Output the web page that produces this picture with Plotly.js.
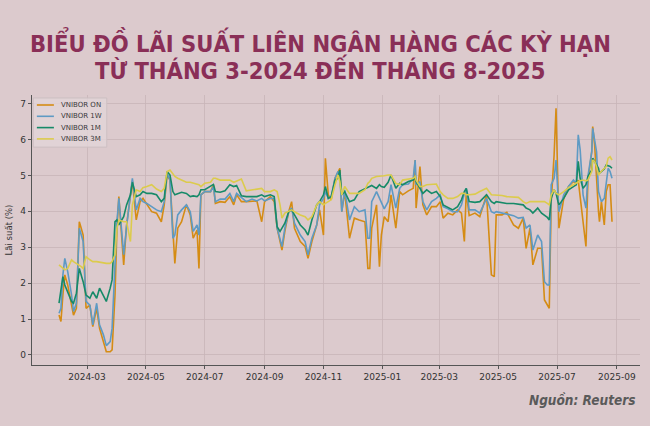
<!DOCTYPE html>
<html>
<head>
<meta charset="utf-8">
<script src="https://cdn.plot.ly/plotly-3.0.1.min.js"></script>
<style>
  html, body { margin: 0; padding: 0; background: #dccacd; }
  #chart { width: 650px; height: 426px; }
</style>
</head>
<body>
<div id="chart"></div>
<script>
// Lãi suất liên ngân hàng VNIBOR (%)
var dates = [
  '2024-02-01','2024-02-03','2024-02-05','2024-02-07','2024-02-10','2024-02-14','2024-02-16','2024-02-19','2024-02-22','2024-02-24',
  '2024-02-26','2024-02-29','2024-03-04','2024-03-07','2024-03-11','2024-03-14','2024-03-18','2024-03-21','2024-03-25','2024-03-27',
  '2024-03-30','2024-04-01','2024-04-03','2024-04-08','2024-04-11','2024-04-15','2024-04-17','2024-04-21','2024-04-25','2024-04-28',
  '2024-05-02','2024-05-07','2024-05-12','2024-05-17','2024-05-20','2024-05-23','2024-05-26','2024-05-29','2024-05-31','2024-06-03',
  '2024-06-07','2024-06-12',
  '2024-06-16','2024-06-19','2024-06-23','2024-06-25','2024-06-27','2024-07-01','2024-07-07','2024-07-10','2024-07-12','2024-07-17',
  '2024-07-22','2024-07-27','2024-07-31','2024-08-03','2024-08-08','2024-08-13','2024-08-19','2024-08-24','2024-08-29','2024-09-01',
  '2024-09-07','2024-09-11','2024-09-14','2024-09-17','2024-09-19','2024-09-22','2024-09-26','2024-09-29','2024-10-02','2024-10-08',
  '2024-10-13','2024-10-16','2024-10-20','2024-10-25','2024-10-28','2024-11-01','2024-11-03','2024-11-06',
  '2024-11-09','2024-11-13','2024-11-16','2024-11-18','2024-11-20','2024-11-23','2024-11-28','2024-12-03','2024-12-08','2024-12-14',
  '2024-12-17','2024-12-19','2024-12-21','2024-12-26','2024-12-29','2024-12-31','2025-01-03','2025-01-07','2025-01-10','2025-01-15',
  '2025-01-19','2025-01-22','2025-01-28','2025-02-02','2025-02-04','2025-02-05','2025-02-09','2025-02-12','2025-02-16','2025-02-21',
  '2025-02-26','2025-03-02','2025-03-05','2025-03-10','2025-03-15','2025-03-20','2025-03-24','2025-03-27','2025-03-29',
  '2025-04-01','2025-04-07','2025-04-12','2025-04-19','2025-04-24','2025-04-27','2025-04-29','2025-05-05','2025-05-10','2025-05-17',
  '2025-05-22','2025-05-27','2025-05-30','2025-06-03','2025-06-06','2025-06-11','2025-06-15','2025-06-18','2025-06-21','2025-06-23',
  '2025-06-25','2025-06-28','2025-06-30','2025-07-02','2025-07-03','2025-07-08','2025-07-13','2025-07-18','2025-07-21','2025-07-23',
  '2025-07-25','2025-07-28','2025-07-31','2025-08-02','2025-08-06','2025-08-07','2025-08-09','2025-08-11','2025-08-13','2025-08-14',
  '2025-08-16','2025-08-19','2025-08-21','2025-08-23','2025-08-25','2025-08-27'
];

var vniborON = [
  1.11,0.93,1.67,2.23,1.95,1.39,1.11,1.30,3.71,3.53,3.34,1.30,1.39,0.79,1.30,0.74,0.37,0.09,0.09,0.14,
  1.67,3.53,4.41,2.51,3.62,4.55,4.85,3.76,4.27,4.36,4.18,3.99,3.95,3.71,4.18,5.01,4.87,3.53,2.55,3.53,
  3.71,4.18,
  3.90,3.25,3.48,2.41,4.46,4.55,4.55,4.74,4.22,4.27,4.25,4.41,4.18,4.46,4.27,4.27,4.29,4.29,3.71,4.27,
  4.41,4.27,3.53,3.16,2.92,3.44,3.99,4.27,3.53,3.16,3.02,2.69,3.16,3.62,4.04,3.34,5.48,4.46,
  4.32,4.92,5.11,5.20,3.99,4.55,3.25,3.81,3.76,3.71,2.41,2.41,3.53,4.18,2.46,3.34,3.85,3.71,4.46,3.53,
  4.55,4.46,4.57,4.64,5.43,4.09,5.25,4.18,3.90,4.13,4.13,4.27,3.81,3.95,3.90,4.04,3.95,3.16,4.55,
  3.88,3.95,3.85,4.46,2.23,2.18,3.90,3.90,3.97,3.62,3.53,3.81,2.97,3.53,2.51,2.97,2.97,1.53,1.39,1.30,
  4.27,5.57,6.87,4.46,3.53,4.36,4.69,4.83,4.78,4.87,4.46,3.71,3.02,4.83,5.66,6.36,5.85,4.83,3.99,3.71,
  4.27,3.62,4.55,4.74,4.74,3.71
];

var vnibor1W = [
  1.16,1.30,2.23,2.69,2.32,1.67,1.21,1.44,3.53,3.34,3.16,1.49,1.39,0.84,1.44,0.84,0.56,0.26,0.37,0.74,
  2.60,3.71,4.36,2.79,3.57,4.46,4.92,4.04,4.36,4.27,4.22,4.13,4.04,3.99,4.27,5.06,4.87,3.25,3.34,3.90,
  4.04,4.18,
  3.99,3.44,3.62,3.34,4.46,4.55,4.55,4.69,4.27,4.34,4.34,4.50,4.27,4.50,4.38,4.27,4.34,4.29,4.36,4.29,
  4.36,4.36,3.53,3.25,3.02,3.53,3.99,4.09,3.67,3.34,3.16,2.79,3.25,3.62,4.18,4.36,4.55,4.36,
  4.41,4.92,5.11,5.01,3.99,4.60,3.76,4.13,3.99,4.04,3.25,3.25,4.27,4.55,4.36,4.22,4.07,4.27,4.74,4.09,
  4.64,4.74,4.76,4.92,5.43,4.74,4.83,4.27,4.04,4.27,4.36,4.46,4.13,4.07,3.99,3.99,4.18,4.50,4.64,
  4.04,4.04,3.95,4.36,3.99,3.95,3.99,3.95,3.92,3.88,3.81,3.83,3.53,3.62,2.92,3.34,3.16,2.04,1.95,1.95,
  4.74,4.92,5.43,4.55,3.99,4.46,4.69,4.87,4.78,6.13,5.71,4.46,4.09,4.97,5.66,6.31,5.94,5.66,4.55,4.46,
  4.27,4.36,4.74,5.20,5.11,4.92
];

var vnibor1M = [
  1.44,1.76,2.18,1.95,1.76,1.49,1.44,1.72,2.41,2.23,2.04,1.67,1.58,1.76,1.58,1.86,1.62,1.49,1.86,2.09,
  3.71,3.76,3.62,3.85,4.18,4.46,4.81,4.41,4.46,4.55,4.50,4.50,4.46,4.27,4.36,5.11,5.01,4.55,4.46,4.50,
  4.53,4.50,
  4.41,4.43,4.41,4.46,4.60,4.60,4.69,4.75,4.55,4.53,4.57,4.74,4.69,4.72,4.43,4.41,4.41,4.41,4.46,4.41,
  4.46,4.41,3.57,3.44,3.53,3.67,3.99,4.04,3.90,3.62,3.48,3.34,3.76,4.18,4.27,4.46,4.69,4.36,
  4.41,4.87,4.92,5.15,4.46,4.55,4.27,4.32,4.55,4.62,4.67,4.69,4.72,4.64,4.74,4.69,4.67,4.81,5.01,4.64,
  4.78,4.74,4.83,4.87,4.97,4.83,4.64,4.50,4.60,4.50,4.55,4.41,4.18,4.11,4.04,4.13,4.32,4.55,4.64,
  4.27,4.25,4.27,4.46,4.27,4.22,4.27,4.25,4.22,4.22,4.20,4.18,4.09,4.04,3.95,4.09,3.95,3.90,3.83,3.76,
  4.36,4.60,4.50,4.27,4.18,4.36,4.60,4.69,4.74,5.39,4.92,4.64,4.74,4.97,5.15,5.48,5.39,5.29,5.20,5.06,
  5.11,5.18,5.29,5.27,5.25,5.20
];

var vnibor3M = [
  2.51,2.46,2.41,2.37,2.41,2.65,2.60,2.55,2.51,2.46,2.41,2.74,2.65,2.60,2.60,2.58,2.55,2.55,2.55,2.60,
  2.79,3.53,3.76,3.71,3.71,3.16,4.18,4.60,4.55,4.66,4.69,4.74,4.62,4.55,4.64,5.11,5.15,5.06,4.97,4.92,
  4.87,4.81,
  4.81,4.78,4.75,4.74,4.69,4.78,4.81,4.92,4.92,4.87,4.87,4.87,4.81,4.85,4.90,4.57,4.60,4.62,4.64,4.55,
  4.55,4.60,4.55,4.18,3.81,3.95,4.01,4.04,3.99,3.90,3.85,3.76,3.85,4.18,4.27,4.18,4.22,4.27,
  4.32,4.74,5.01,4.83,4.46,4.69,4.50,4.50,4.50,4.60,4.78,4.83,4.92,4.97,4.97,4.97,4.99,5.01,5.01,4.78,
  4.74,4.87,4.90,4.92,4.97,4.87,4.69,4.69,4.74,4.74,4.76,4.55,4.46,4.36,4.36,4.41,4.50,4.50,4.46,
  4.46,4.48,4.55,4.64,4.46,4.46,4.46,4.44,4.41,4.41,4.39,4.27,4.22,4.27,4.27,4.29,4.29,4.27,4.22,4.18,
  4.46,4.60,4.50,4.46,4.46,4.55,4.66,4.74,4.78,4.83,4.85,4.87,4.85,4.87,5.11,5.43,5.39,5.25,5.01,5.06,
  5.11,5.18,5.25,5.48,5.52,5.43
];

var seriesNames = ['VNIBOR ON', 'VNIBOR 1W', 'VNIBOR 1M', 'VNIBOR 3M'];
var seriesValues = [vniborON, vnibor1W, vnibor1M, vnibor3M];
var seriesColors = ['#d58c14', '#5e9ac4', '#168a68', '#dccb4c'];

var traces = [];
for (var i = 0; i < seriesNames.length; i++) {
    traces.push({
        name: seriesNames[i],
        x: dates,
        y: seriesValues[i],
        type: 'scatter',
        mode: 'lines',
        line: { color: seriesColors[i], width: 1.6 }
    });
}

var tickFont = { family: 'DejaVu Sans, sans-serif', size: 9, color: '#333333' };
var titleFont = { family: 'DejaVu Sans Condensed, DejaVu Sans, sans-serif', size: 23.5, color: '#8a2f57', weight: 'bold' };

// small legend box in the top-left corner (matplotlib style, tighter than plotly's own)
var shapes = [{
    type: 'rect', xref: 'paper', yref: 'paper',
    x0: 0.002, x1: 0.123, y0: 0.807, y1: 0.989,
    fillcolor: 'rgba(226,213,216,0.8)',
    line: { color: '#cdbfc2', width: 1 }
}];
var annotations = [];
for (var k = 0; k < seriesNames.length; k++) {
    var ly = (365 - 105 - 11.3 * k) / 270;
    shapes.push({
        type: 'line', xref: 'paper', yref: 'paper',
        x0: 0.008, x1: 0.036, y0: ly, y1: ly,
        line: { color: seriesColors[k], width: 1.6 }
    });
    annotations.push({
        text: seriesNames[k],
        xref: 'paper', yref: 'paper', x: 0.045, y: ly,
        xanchor: 'left', yanchor: 'middle', showarrow: false,
        font: { family: 'DejaVu Sans, sans-serif', size: 7, color: '#3a3a3a' }
    });
}

annotations.push(
    {
        text: 'BIỂU ĐỒ LÃI SUẤT LIÊN NGÂN HÀNG CÁC KỲ HẠN',
        xref: 'paper', yref: 'paper', x: 0.474, y: 1.195,
        xanchor: 'center', yanchor: 'middle', showarrow: false,
        font: titleFont
    },
    {
        text: 'TỪ THÁNG 3-2024 ĐẾN THÁNG 8-2025',
        xref: 'paper', yref: 'paper', x: 0.474, y: 1.093,
        xanchor: 'center', yanchor: 'middle', showarrow: false,
        font: titleFont
    },
    {
        text: '<i>Nguồn: Reuters</i>',
        xref: 'paper', yref: 'paper', x: 0.995, y: -0.13,
        xanchor: 'right', yanchor: 'middle', showarrow: false,
        font: { family: 'DejaVu Sans Condensed, DejaVu Sans, sans-serif', size: 13.5, color: '#5a5a5a', weight: 'bold' }
    }
);

var layout = {
    width: 650,
    height: 426,
    paper_bgcolor: '#dccacd',
    plot_bgcolor: '#dccacd',
    margin: { l: 32, r: 10, t: 95, b: 61 },
    showlegend: false,
    xaxis: {
        type: 'date',
        range: ['2024-01-04', '2025-09-25'],
        tick0: '2024-03-01',
        dtick: 'M2',
        tickformat: '%Y-%m',
        showgrid: true,
        gridcolor: '#c8b4b8',
        gridwidth: 0.8,
        showline: true,
        linecolor: '#555555',
        linewidth: 1.2,
        ticks: 'outside',
        ticklen: 3,
        tickcolor: '#555555',
        tickfont: tickFont,
        zeroline: false
    },
    yaxis: {
        range: [-0.28, 7.24],
        tick0: 0,
        dtick: 1,
        showgrid: true,
        gridcolor: '#c8b4b8',
        gridwidth: 0.8,
        showline: true,
        linecolor: '#555555',
        linewidth: 1.2,
        ticks: 'outside',
        ticklen: 3,
        tickcolor: '#555555',
        tickfont: tickFont,
        zeroline: false,
        title: { text: 'Lãi suất (%)', font: { family: 'DejaVu Sans, sans-serif', size: 8.5, color: '#333333' }, standoff: 6 }
    },
    shapes: shapes,
    annotations: annotations
};

Plotly.newPlot('chart', traces, layout, { staticPlot: true });
</script>
</body>
</html>
